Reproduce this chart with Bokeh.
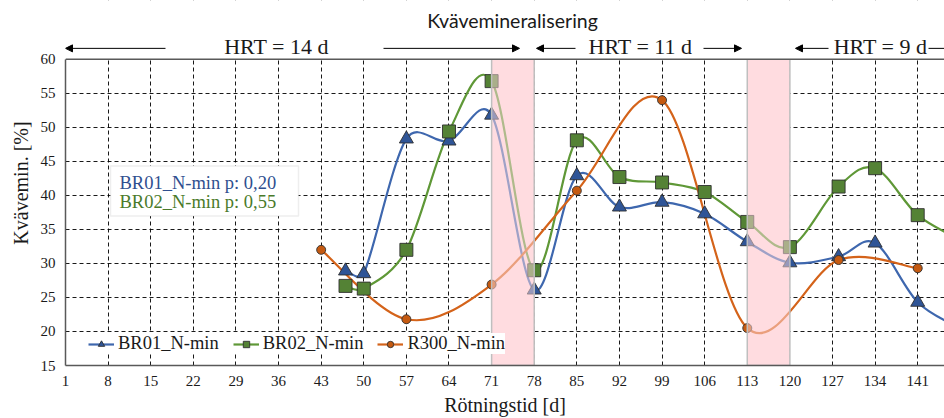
import numpy as np
from bokeh.plotting import figure
from bokeh.models import (Range1d, FixedTicker, Legend, LegendItem, Label, Arrow,
                          NormalHead, BoxAnnotation, Span, ColumnDataSource)
from bokeh.embed import file_html
from bokeh.resources import INLINE

# ---------------- data ----------------
tick_days = [1, 8, 15, 22, 29, 36, 43, 50, 57, 64, 71, 78, 85, 92, 99, 106, 113, 120, 127, 134, 141]
y_ticks = [15, 20, 25, 30, 35, 40, 45, 50, 55, 60]

br01_x = [47, 50, 57, 64, 71, 78, 85, 92, 99, 106, 113, 120, 128, 134, 141, 148]
br01_y = [28.9, 28.5, 48.3, 48.0, 51.8, 26.1, 42.9, 38.3, 39.0, 37.3, 33.2, 30.1, 31.0, 33.0, 24.3, 20.5]

br02_x = [47, 50, 57, 64, 71, 78, 85, 92, 99, 106, 113, 120, 128, 134, 141, 148]
br02_y = [26.7, 26.3, 32.0, 49.4, 56.8, 29.0, 48.1, 42.7, 41.9, 40.5, 36.1, 32.4, 41.3, 44.0, 37.1, 33.5]

r300_x = [43, 57, 71, 85, 99, 113, 128, 141]
r300_y = [32.0, 21.8, 26.9, 40.7, 54.0, 20.5, 30.5, 29.3]

shade_start = [71, 113]
shade_end = [78, 120]

series_names = ["BR01_N-min", "BR02_N-min", "R300_N-min"]
pvalue_texts = ["BR01_N-min p: 0,20", "BR02_N-min p: 0,55"]
hrt_texts = ["HRT = 14 d", "HRT = 11 d", "HRT = 9 d"]
title_text = "Kvävemineralisering"

# ---------------- layout ----------------
W, H = 944, 418
LEFT, BOTTOM, TOPPX = 65, 52, 59
X0, X1 = 1, 145.4
Y0, Y1 = 15, 60
SX = (W - LEFT) / (X1 - X0)
SY = (H - BOTTOM - TOPPX) / (Y1 - Y0)
YTOP = Y1 + TOPPX / SY


def py(px):
    """canvas pixel row -> data y (for annotations above the plot area)"""
    return Y1 + (TOPPX - px) / SY


def pxx(px):
    return X0 + (px - LEFT) / SX


SERIF = "Liberation Serif"

p = figure(width=W, height=H, output_backend="svg", toolbar_location=None,
           title=None,
           x_range=Range1d(X0, X1), y_range=Range1d(Y0, YTOP),
           min_border_left=LEFT, min_border_right=0, min_border_top=0,
           min_border_bottom=BOTTOM, outline_line_color=None,
           background_fill_color="white", border_fill_color="white")

for ax in (p.xaxis[0], p.yaxis[0]):
    ax.axis_line_color = "#595959"
    ax.axis_line_width = 1.5
    ax.major_tick_out = 0
    ax.major_tick_in = 0
    ax.minor_tick_out = 0
    ax.minor_tick_in = 0
    ax.major_label_text_font = SERIF
    ax.major_label_text_font_size = "15px"
    ax.major_label_text_color = "#1a1a1a"
    ax.axis_label_text_font = SERIF
    ax.axis_label_text_font_size = "20px"
    ax.axis_label_text_font_style = "normal"
    ax.axis_label_text_color = "#1a1a1a"

p.xaxis.ticker = FixedTicker(ticks=tick_days)
p.yaxis.ticker = FixedTicker(ticks=y_ticks)
p.yaxis.bounds = (Y0, Y1)
p.xaxis.axis_label = "Rötningstid [d]"
p.yaxis.axis_label = "Kvävemin. [%]"
p.xaxis.major_label_standoff = 10
p.xaxis.axis_label_standoff = 5
p.yaxis.major_label_standoff = 10
p.yaxis.axis_label_standoff = 6

for g in (p.xgrid[0], p.ygrid[0]):
    g.grid_line_color = "black"
    g.grid_line_dash = "4 3"
    g.grid_line_width = 1
    g.grid_line_alpha = 0.9


def bezier_controls(xs, ys):
    X = np.asarray(xs, float) * SX
    Y = np.asarray(ys, float) * SY
    n = len(X)
    c1x, c1y, c2x, c2y = [], [], [], []
    for i in range(n - 1):
        a = i - 1 if i > 0 else i
        b = i + 2 if i + 2 < n else i + 1
        d = np.hypot(X[i + 1] - X[i], Y[i + 1] - Y[i])
        t1 = np.array([X[i + 1] - X[a], Y[i + 1] - Y[a]]) / 6.0
        t2 = np.array([X[b] - X[i], Y[b] - Y[i]]) / 6.0
        for t in (t1, t2):
            L = np.hypot(*t)
            if L > d / 2 and L > 0:
                t *= (d / 2) / L
        c1x.append((X[i] + t1[0]) / SX)
        c1y.append((Y[i] + t1[1]) / SY)
        c2x.append((X[i + 1] - t2[0]) / SX)
        c2y.append((Y[i + 1] - t2[1]) / SY)
    return dict(x0=list(xs[:-1]), y0=list(ys[:-1]), x1=list(xs[1:]), y1=list(ys[1:]),
                cx0=c1x, cy0=c1y, cx1=c2x, cy1=c2y)


PINK = "#FFDCE0"
p.quad(left=shade_start, right=shade_end, bottom=Y0, top=Y1,
       fill_color=PINK, line_color=None)

styles = [
    dict(xs=br01_x, ys=br01_y, line="#3E67AE", fill="#2F5597", marker="triangle", size=14),
    dict(xs=br02_x, ys=br02_y, line="#5F9837", fill="#548235", marker="square", size=13),
    dict(xs=r300_x, ys=r300_y, line="#D4631A", fill="#C55A11", marker="circle", size=9),
]

items = []
for st in styles:
    src = ColumnDataSource(bezier_controls(st["xs"], st["ys"]))
    p.bezier(x0="x0", y0="y0", x1="x1", y1="y1", cx0="cx0", cy0="cy0",
             cx1="cx1", cy1="cy1", source=src, line_color=st["line"], line_width=2.2)
for name, st in zip(series_names, styles):
    ln = p.line([np.nan, np.nan], [np.nan, np.nan], line_color=st["line"], line_width=2.2)
    sc = p.scatter(st["xs"], st["ys"], marker=st["marker"], size=st["size"],
                   fill_color=st["fill"], line_color="#303030", line_width=0.9)
    items.append(LegendItem(label=name, renderers=[ln, sc]))

p.quad(left=shade_start, right=shade_end, bottom=Y0, top=Y1,
       fill_color=PINK, fill_alpha=0.5, line_color="#BFBFBF", line_width=1.5)

# white area above the plot region (title / HRT strip)
p.add_layout(BoxAnnotation(bottom=Y1, fill_color="white", fill_alpha=1.0, line_color=None))
p.add_layout(Span(location=Y1, dimension="width", line_color="#595959", line_width=1.5))

legend = Legend(items=items, orientation="horizontal", location=(23, 11),
                label_text_font=SERIF, label_text_font_size="18.5px",
                label_text_color="#1a1a1a", glyph_width=26, glyph_height=16,
                label_standoff=4, spacing=14, padding=4, margin=0,
                border_line_color=None, background_fill_color="white",
                background_fill_alpha=1.0)
p.add_layout(legend)

# p-value box
p.add_layout(BoxAnnotation(left=pxx(110), right=pxx(298), top=py(166), bottom=py(216),
                           fill_color="white", fill_alpha=1.0,
                           line_color="#C8C8C8", line_width=1.5))
p.add_layout(Label(x=pxx(119), y=py(183), text=pvalue_texts[0], text_font=SERIF,
                   text_font_size="18.5px", text_color="#2F4F8F", text_baseline="middle"))
p.add_layout(Label(x=pxx(119), y=py(202), text=pvalue_texts[1], text_font=SERIF,
                   text_font_size="18.5px", text_color="#4A7A2A", text_baseline="middle"))

# title
p.add_layout(Label(x=pxx(512), y=py(20), text=title_text, text_font="Lato",
                   text_font_size="19.5px", text_color="#1a1a1a",
                   text_align="center", text_baseline="middle"))

# HRT annotations
hrt_centers_px = [276, 640, 880]
arrow_px = [(165, 65), (383, 519), (575, 536), (703, 741), (828, 795), (928, 952)]
for txt, cx in zip(hrt_texts, hrt_centers_px):
    p.add_layout(Label(x=pxx(cx), y=py(46), text=txt, text_font=SERIF, text_font_size="22px",
                       text_color="#1a1a1a", text_align="center", text_baseline="middle"))
for xs, xe in arrow_px:
    p.add_layout(Arrow(end=NormalHead(size=7, fill_color="black", line_color="black"),
                       x_start=pxx(xs), y_start=py(48), x_end=pxx(xe), y_end=py(48),
                       line_color="black", line_width=1))

open("out.html", "w").write(file_html(p, INLINE))
